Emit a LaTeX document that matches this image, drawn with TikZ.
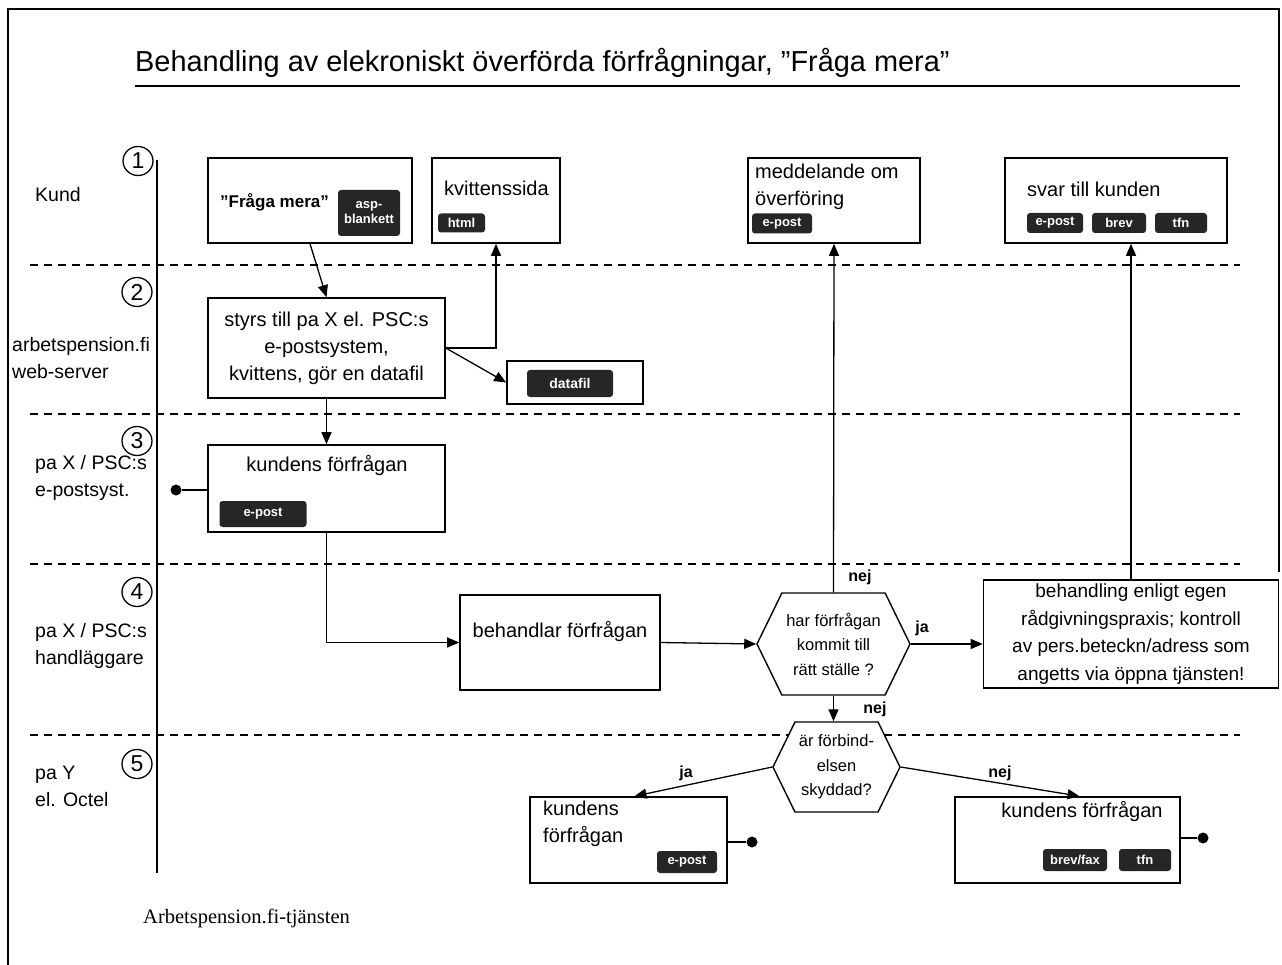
\documentclass[tikz,border=0pt]{standalone}
\usepackage{fontspec}
\setmainfont{Liberation Sans}
\newfontfamily\footserif{Liberation Serif}
\usetikzlibrary{arrows.meta,shapes.geometric,shapes.symbols,calc}
\tikzset{
  box/.style={draw, fill=white, line width=1.6pt, inner sep=0pt},
  txt/.style={inner sep=0pt, font=\fontsize{20}{27}\selectfont},
  lane/.style={inner sep=0pt, anchor=west, align=left, font=\fontsize{19.5}{27}\selectfont},
  tag/.style={fill=black!85, text=white, rounded corners=3pt, inner sep=0pt, font=\bfseries\fontsize{13}{14}\selectfont},
  hex/.style={draw, fill=white, line width=1.4pt, signal, signal to=east and west, signal pointer angle=128, inner sep=0pt, align=center, font=\fontsize{16.5}{24.5}\selectfont},
  arr/.style={line width=1.3pt, -{Triangle[length=12pt,width=10pt]}},
  conn/.style={line width=1.3pt},
  lbl/.style={inner sep=0pt, font=\bfseries\fontsize{16}{18}\selectfont},
  num/.style={draw, ellipse, line width=1.3pt, minimum width=30pt, minimum height=29pt, inner sep=0pt, font=\fontsize{23}{24}\selectfont},
  dot/.style={circle, fill=black, minimum size=11pt, inner sep=0pt},
  lanesep/.style={line width=1.3pt, dash pattern=on 8pt off 6pt},
}
\begin{document}
\begin{tikzpicture}[x=1pt,y=-1pt]
\useasboundingbox (0,0) rectangle (1282,965);
% frame
\draw[line width=1.6pt] (8,965) -- (8,9) -- (1279,9) -- (1279,572);
% title
\node[inner sep=0pt, anchor=base west, font=\fontsize{28.9}{31}\selectfont] (title) at (135,72) {Behandling av elekroniskt överförda förfrågningar, ”Fråga mera”};
\draw[line width=1.5pt] (135,86) -- (1240,86);
% lanes
\draw[line width=1.3pt] (157,160) -- (157,873);
\foreach \yy in {265,414,564,735} \draw[lanesep] (30,\yy) -- (1240,\yy);
\node[num] (n1) at (138,161) {1};
\node[num] (n2) at (137,292) {2};
\node[num] (n3) at (137,441) {3};
\node[num] (n4) at (137,592) {4};
\node[num] (n5) at (137,764) {5};
\node[lane] (l1) at (35,195) {Kund};
\node[lane] (l2) at (12,358) {arbetspension.fi\\web-server};
\node[lane] (l3) at (35,478) {pa X / PSC:s\\e-postsyst.};
\node[lane] (l4) at (35,646) {pa X / PSC:s\\handläggare};
\node[lane] (l5) at (35,786) {pa Y\\el. Octel};
% lane 1 boxes
\node[box, minimum width=204, minimum height=85] (fraga) at (310,200.5) {};
\node[inner sep=0pt, anchor=west, font=\bfseries\fontsize{17}{20}\selectfont] (fragat) at (220,202) {”Fråga mera”};
\node[tag, minimum width=62, minimum height=46, align=center, font=\bfseries\fontsize{13}{15}\selectfont] (asp) at (369,213) {asp-\\blankett};
\node[box, minimum width=128, minimum height=85] (kvitt) at (496,200.5) {};
\node[txt, anchor=west] (kvittt) at (444,188) {kvittenssida};
\node[tag, minimum width=47, minimum height=19] (html) at (461.5,223) {html};
\node[box, minimum width=172, minimum height=85] (medd) at (834,200.5) {};
\node[txt, anchor=north west, align=left] (meddt) at (755,164) {meddelande om\\överföring};
\node[tag, minimum width=60, minimum height=20] (medde) at (782,223.5) {e-post};
\node[box, minimum width=222, minimum height=85] (svar) at (1116,200.5) {};
\node[txt, anchor=west] (svart) at (1027,189) {svar till kunden};
\node[tag, minimum width=56, minimum height=20] (svare) at (1055,223) {e-post};
\node[tag, minimum width=54, minimum height=20] (svarb) at (1119,223) {brev};
\node[tag, minimum width=52, minimum height=20] (svart2) at (1181,223) {tfn};
% lane 2
\node[box, minimum width=237, minimum height=100, align=center, font=\fontsize{20}{27}\selectfont] (styrs) at (326.5,348) {styrs till pa X el. PSC:s\\e-postsystem,\\kvittens, gör en datafil};
\node[box, minimum width=136, minimum height=43] (datafil) at (575,382.5) {};
\node[tag, minimum width=86, minimum height=27, font=\bfseries\fontsize{14}{15}\selectfont] (datafilt) at (570,383.5) {datafil};
% lane 3
\node[box, minimum width=237, minimum height=87] (kund3) at (326.5,488.5) {};
\node[txt] (kund3t) at (327,466) {kundens förfrågan};
\node[tag, minimum width=87, minimum height=26] (kund3e) at (263,514) {e-post};
\node[dot] (d3) at (176,490) {};
% lane 4
\node[box, minimum width=200, minimum height=95] (behandlar) at (560,642.5) {};
\node[txt] (behandlart) at (560,632) {behandlar förfrågan};
\node[hex, minimum width=153, minimum height=102] (hex1) at (833.5,644) {har förfrågan\\kommit till\\rätt ställe ?};
\node[box, minimum width=295, minimum height=108, align=center, font=\fontsize{19}{27.5}\selectfont] (behandling) at (1131,634) {behandling enligt egen\\rådgivningspraxis; kontroll\\av pers.beteckn/adress som\\angetts via öppna tjänsten!};
% lane 5
\node[hex, minimum width=127, minimum height=90] (hex2) at (836.5,767) {är förbind-\\elsen\\skyddad?};
\node[box, minimum width=197, minimum height=86] (kund5) at (628.5,840) {};
\node[txt, anchor=north west, align=left] (kund5t) at (543,801) {kundens\\förfrågan};
\node[tag, minimum width=60, minimum height=22] (kund5e) at (687,862) {e-post};
\node[dot] (d5) at (752,842) {};
\node[box, minimum width=225, minimum height=86] (kund5r) at (1067.5,840) {};
\node[txt] (kund5rt) at (1082,812) {kundens förfrågan};
\node[tag, minimum width=64, minimum height=22] (kund5rb) at (1075,860) {brev/fax};
\node[tag, minimum width=52, minimum height=22] (kund5rt2) at (1145,860) {tfn};
\node[dot] (d5r) at (1203,838) {};
% labels
\node[lbl] (nej1) at (860,577) {nej};
\node[lbl] (ja1) at (922,628) {ja};
\node[lbl] (nej2) at (875,709) {nej};
\node[lbl] (ja2) at (686,773) {ja};
\node[lbl] (nej3) at (1000,773) {nej};
% connectors
\draw[arr] (fraga.south) -- (styrs.north);
\draw[arr] (styrs.east) -| (kvitt.south);
\draw[arr] (styrs.east) -- (datafil.west);
\draw[arr] (styrs.south) -- (kund3.north);
\draw[conn] (d3) -- (d3 -| kund3.west);
\draw[arr] (kund3.south) |- (behandlar.west);
\draw[arr] (behandlar.east) -- (hex1.west);
\draw[arr] (hex1.east) -- (hex1.east -| behandling.west);
\draw[arr] (hex1.north) -- (medd.south);
\draw[arr] (behandling.north) -- (behandling.north |- svar.south);
\draw[arr] (hex1.south) -- (hex1.south |- hex2.north);
\draw[arr] (hex2.west) -- ([xshift=6pt]kund5.north);
\draw[arr] (hex2.east) -- ([xshift=12pt]kund5r.north);
\draw[conn] (d5) -- (d5 -| kund5.east);
\draw[conn] (d5r) -- (d5r -| kund5r.east);
% footer
\node[inner sep=0pt, anchor=west, font=\footserif\fontsize{20.5}{22}\selectfont] (footer) at (143,918) {Arbetspension.fi-tjänsten};
\end{tikzpicture}
\end{document}
